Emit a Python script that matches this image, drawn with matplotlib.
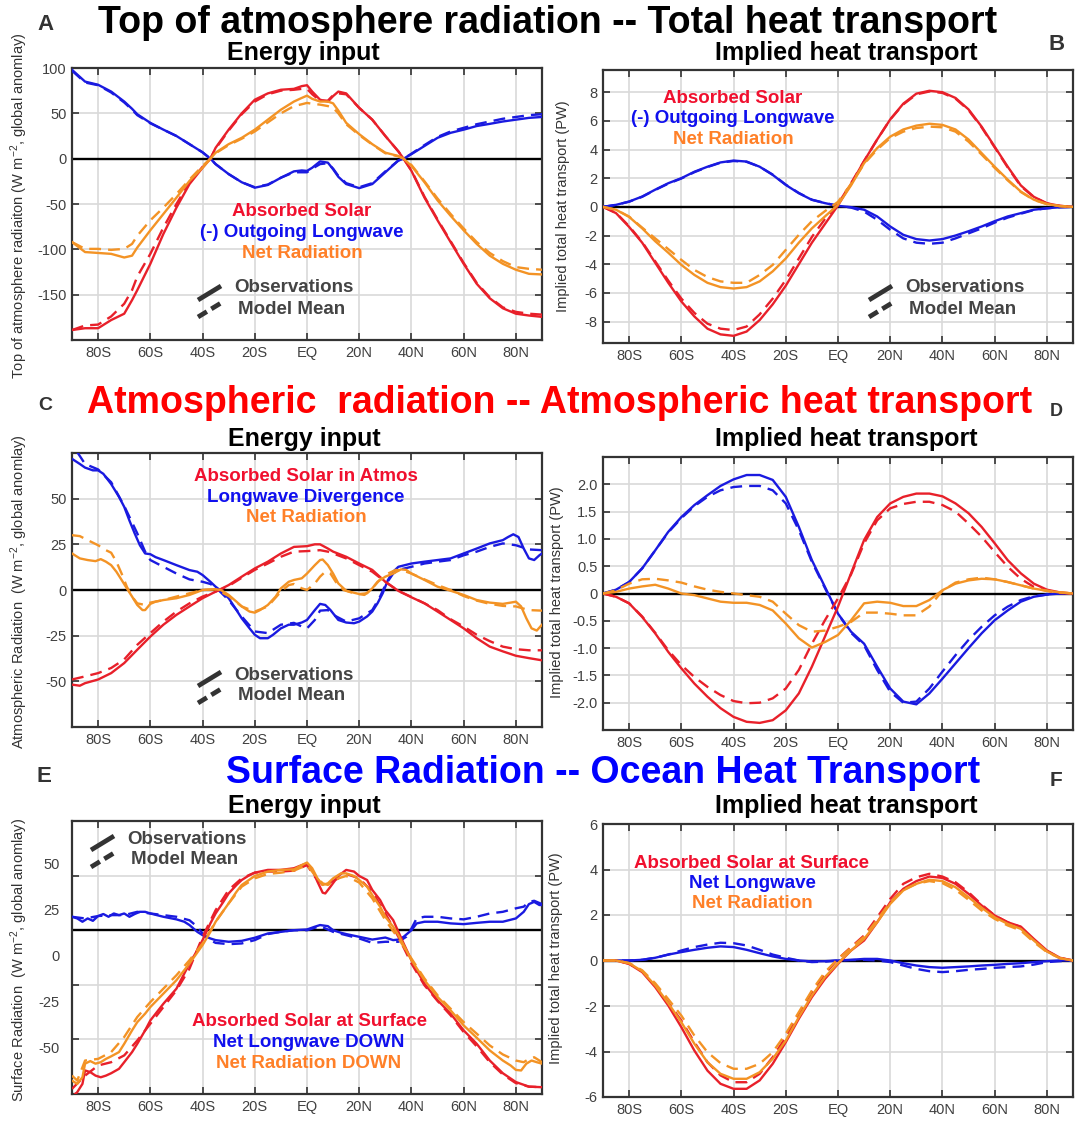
import numpy as np
import matplotlib
matplotlib.use("Agg")
import matplotlib.pyplot as plt
from matplotlib.lines import Line2D

plt.rcParams['font.family'] = ['Liberation Sans', 'DejaVu Sans']
plt.rcParams['mathtext.default'] = 'regular'

W, H = 1075, 1122

# ---------------- data ----------------
lat5 = list(range(-90, 91, 5))
x_ticks = [-80, -60, -40, -20, 0, 20, 40, 60, 80]
x_labels = ['80S', '60S', '40S', '20S', 'EQ', '20N', '40N', '60N', '80N']

# A: top of atmosphere energy input (W m-2)
a_lat = [-90, -85, -80, -75, -70, -67, -65, -60, -55, -50, -45, -40, -37, -35, -30, -25, -20, -15, -10, -5,
         -2, 0, 2, 5, 8, 10, 12, 15, 20, 25, 30, 35, 37, 40, 45, 50, 55, 60, 65, 70, 75, 80, 85, 90]
a_lw_obs = [98, 85, 81.5, 74, 63, 55, 49, 39.5, 32, 25, 16, 7, 0, -6, -17, -26, -32, -29, -21, -14,
            -13, -13.5, -10, -3, -4.4, -11.7, -20, -28, -32.5, -28, -15, -2, 0, 5, 14, 23, 28.5, 32, 36, 38.4, 41, 43, 45, 46]
a_lw_mod = [97, 84, 81, 73, 62, 54, 48, 39, 32, 25, 16, 7, 0, -6, -17, -26, -31.5, -28.5, -21, -15,
            -15, -15, -11, -6, -5, -11, -19, -27, -31.5, -27, -14, -2, 0, 5.5, 15, 24, 30, 34, 38, 41, 44, 46, 48, 49]
a_sw_obs = [-189, -187, -187, -178, -171, -156, -145, -116, -83, -54, -28, -10, 0, 12, 32, 50, 65, 72, 76, 77,
            80, 81, 74, 65, 63, 69, 74, 72, 56, 43, 25, 8, 0, -13.5, -43, -68, -92, -116, -138, -154, -165, -171, -173, -174.5]
a_sw_mod = [-189, -184, -183, -174, -160, -145, -130, -105, -76, -50, -26, -9, 0, 11, 31, 49, 63, 71, 75, 76,
            77, 77, 71, 64, 64, 70, 72, 71, 56, 43, 25, 8, 0, -13, -42, -67, -91, -115, -137, -153, -164, -169, -171, -172]
a_net_obs = [-92, -103, -104, -105, -109, -107, -98, -79, -61, -43, -24.5, -10, 0, 6.6, 16, 23, 32, 43, 54, 63,
             67, 69.5, 66, 63, 63, 61, 53, 39.5, 27, 16, 6.6, 3, 0, -8, -26, -46, -63, -79, -94, -107, -116, -122.5, -127, -127.7]
a_net_mod = [-92, -99.5, -99.5, -100.6, -99.5, -94, -85, -68, -54, -39, -23, -8, 0, 6, 15, 22, 30, 40, 50, 58,
             60, 61.5, 60.5, 59.6, 58, 56, 50, 38, 26, 15.5, 6, 2.5, 0, -7, -25, -44, -61, -77, -92, -104, -113, -119.6, -121.5, -122.5]

# B: implied total heat transport (PW), on lat5
b_sw_obs = [0, -0.44, -1.4, -2.5, -3.9, -5.3, -6.6, -7.65, -8.5, -8.9, -9.0, -8.7, -7.9, -6.8, -5.5, -4.0, -2.5, -1.2, 0.1,
            1.6, 3.2, 4.7, 6.1, 7.2, 7.9, 8.1, 8.0, 7.6, 6.8, 5.6, 4.2, 2.8, 1.5, 0.7, 0.25, 0.07, 0]
b_sw_mod = [0, -0.42, -1.35, -2.45, -3.8, -5.15, -6.4, -7.4, -8.15, -8.5, -8.6, -8.35, -7.5, -6.4, -5.1, -3.6, -2.1, -0.85, 0.2,
            1.65, 3.2, 4.7, 6.1, 7.15, 7.85, 8.05, 7.95, 7.55, 6.75, 5.55, 4.15, 2.75, 1.45, 0.68, 0.24, 0.07, 0]
b_net_obs = [0, -0.2, -0.7, -1.5, -2.4, -3.2, -4.05, -4.75, -5.3, -5.6, -5.7, -5.6, -5.2, -4.5, -3.6, -2.5, -1.5, -0.67, 0.14,
             1.5, 3.05, 4.1, 4.9, 5.4, 5.67, 5.8, 5.72, 5.4, 4.7, 3.75, 2.8, 1.9, 1.07, 0.5, 0.2, 0.05, 0]
b_net_mod = [0, -0.2, -0.68, -1.45, -2.2, -2.95, -3.7, -4.4, -4.9, -5.2, -5.3, -5.3, -4.75, -4.05, -3.0, -1.95, -1.0, -0.3, 0.35,
             1.6, 3.0, 4.0, 4.8, 5.25, 5.5, 5.6, 5.55, 5.25, 4.55, 3.65, 2.72, 1.85, 1.04, 0.48, 0.19, 0.05, 0]
b_lw_obs = [0, 0.14, 0.37, 0.72, 1.2, 1.65, 2.0, 2.45, 2.8, 3.1, 3.23, 3.16, 2.8, 2.23, 1.53, 0.95, 0.49, 0.26, 0.07,
            -0.02, -0.2, -0.67, -1.37, -1.95, -2.25, -2.35, -2.25, -2.0, -1.7, -1.37, -1.0, -0.67, -0.44, -0.2, -0.1, -0.02, 0]
b_lw_mod = [0, 0.14, 0.36, 0.7, 1.18, 1.62, 1.98, 2.42, 2.78, 3.08, 3.2, 3.14, 2.8, 2.25, 1.55, 0.97, 0.5, 0.27, 0.07,
            -0.05, -0.33, -0.9, -1.6, -2.2, -2.5, -2.58, -2.5, -2.2, -1.85, -1.5, -1.1, -0.75, -0.48, -0.22, -0.1, -0.03, 0]

# C: atmospheric energy input (W m-2)
c_lw_obs_lat = [-90, -87, -85, -82, -80, -78, -75, -72, -70, -68, -66, -64, -62, -60, -58, -55, -50, -45, -42, -40,
                -37, -35, -33, -30, -27, -25, -22, -20, -18, -15, -13, -10, -7, -5, -2, 0, 3, 5, 7, 9,
                12, 15, 18, 20, 23, 25, 27, 29, 31, 33, 35, 40, 45, 50, 55, 60, 65, 70, 75, 77,
                79, 81, 83, 85, 87, 89, 90]
c_lw_obs = [71.8, 69, 67, 65.5, 65.5, 63.6, 58, 51, 45.5, 38, 31, 24.5, 20, 19.6, 18, 16.4, 13.6, 10.9, 10, 8.2,
            4.5, 1.8, -0.4, -4.5, -11, -15.5, -21, -24.5, -26.4, -26.4, -24.5, -21, -19, -19, -17.8, -16.4, -11, -7.6, -8.2, -11,
            -16.4, -17.8, -18.2, -17.3, -14.5, -11.8, -7.3, -1.8, 5.5, 10, 12.7, 14.5, 15.5, 16.4, 17.3, 20, 22.7, 25.5, 27.3, 29,
            30.5, 29, 22.7, 17.3, 16.4, 19, 20]
c_lw_mod_lat = [-88, -85, -80, -75, -70, -65, -62, -60, -55, -50, -45, -40, -37, -35, -30, -25, -20, -15, -10, -5,
                -2, 0, 3, 5, 8, 10, 15, 20, 25, 28, 30, 33, 35, 40, 45, 50, 55, 60, 65, 70, 75, 80, 85, 90]
c_lw_mod = [75.5, 69, 66, 59, 46, 31, 21, 16.4, 12.7, 9, 5.8, 4.5, 3.3, 1.5, -5.5, -14.5, -22.7, -23.6, -19, -18,
            -20, -21, -16.4, -11.3, -11, -13.6, -17.3, -15.5, -11, -3.6, 2.7, 9, 11, 12.7, 14.5, 15.5, 16.4, 19, 21, 23.6,
            25.5, 24.5, 22.2, 21.8]
c_sw_obs_lat = [-90, -87, -85, -80, -75, -70, -65, -60, -55, -50, -45, -40, -35, -30, -25, -20, -15, -10, -5, 0,
                3, 5, 8, 10, 15, 20, 25, 30, 35, 40, 45, 50, 55, 60, 65, 70, 75, 80, 85, 90]
c_sw_obs = [-51.8, -52.4, -51, -49, -45.5, -40, -32.7, -25.5, -19, -13.6, -9, -4.5, -0.9, 2.7, 7.3, 11.8, 15.5, 20, 23.6, 24,
            25, 25, 22.7, 21, 18.2, 14.5, 11, 4.5, -0.5, -4, -7.3, -11.8, -16.4, -21, -26.4, -31, -33.6, -36, -37.3, -38.5]
c_sw_mod_lat = [-90, -85, -80, -75, -70, -65, -60, -55, -50, -45, -40, -35, -30, -25, -20, -15, -10, -5,
                0, 5, 8, 10, 15, 20, 25, 30, 35, 40, 45, 50, 55, 60, 65, 70, 75, 80, 85, 90]
c_sw_mod = [-49, -47.3, -45.5, -42.7, -38, -30, -23.6, -17.3, -11.8, -7.3, -3.6, -0.9, 2.2, 6.7, 11, 14.5, 18.2, 21,
            21.3, 21.8, 21, 20, 17.3, 13.6, 10, 4.5, -0.5, -3.8, -7.3, -11, -16, -20, -24.5, -28, -31, -32.4, -33, -33]
c_net_obs_lat = [-90, -87, -84, -81, -79, -77, -75, -73, -71, -69, -67, -65, -63, -62, -60, -58, -55, -50, -45, -40,
                 -35, -33, -30, -27, -25, -22, -20, -18, -15, -12, -10, -7, -5, -2, 0, 3, 5, 6, 8, 10,
                 12, 15, 18, 20, 23, 25, 27, 30, 33, 36, 38, 40, 45, 50, 55, 60, 65, 70, 75, 78,
                 80, 82, 84, 86, 88, 90]
c_net_obs = [20, 17.3, 16.4, 15.8, 16.9, 15.5, 13.6, 10, 5.5, 0.9, -3.6, -8.2, -11, -11, -7.6, -6.4, -5.5, -4.5, -2.7, 0,
             0.4, 0, -2.7, -6.4, -9, -11.8, -12.4, -11, -8.2, -3.6, 0.9, 4.5, 5.5, 6.4, 9, 13.6, 16.4, 16.7, 13.6, 9,
             3.6, -0.4, -1.5, -2.2, -1.8, 0.9, 4.5, 7.3, 9, 11.3, 11, 9, 5.5, 1.8, -0.4, -2.7, -5.5, -6.9, -7.6, -6.9,
             -6.4, -9, -15.5, -21, -22.2, -19]
c_net_mod_lat = [-90, -87, -84, -80, -77, -75, -73, -71, -69, -67, -65, -62, -60, -55, -50, -45, -40, -35, -30, -25,
                 -20, -15, -10, -7, -5, -2, 0, 3, 5, 7, 9, 11, 14, 18, 22, 25, 28, 31, 34, 37,
                 40, 45, 50, 55, 60, 65, 70, 75, 80, 85, 90]
c_net_mod = [30, 29.5, 27.3, 24.5, 21.8, 20.4, 15.5, 9, 1.8, -3.6, -7.3, -8.2, -6.9, -5.5, -3.6, -1.8, 0, 0.4, -3.3, -9,
             -11.8, -9, -0.9, 2.7, 3.3, 0.9, 0, 3.6, 7.3, 10, 9, 4.5, 0, -1.8, -2.7, 0.9, 5.8, 9, 11, 10.5,
             9, 5.8, 2.7, 0, -3.3, -5.8, -7.6, -8.7, -9, -11, -11.3]

# D: implied atmospheric heat transport (PW), on lat5
d_lw_obs = [0, 0.07, 0.21, 0.46, 0.79, 1.13, 1.4, 1.62, 1.8, 1.97, 2.09, 2.17, 2.17, 2.08, 1.77, 1.22, 0.61, 0.12, -0.37,
            -0.70, -0.92, -1.34, -1.74, -1.98, -2.03, -1.83, -1.56, -1.28, -1.0, -0.73, -0.49, -0.31, -0.15, -0.06, -0.02, 0, 0]
d_lw_mod = [0, 0.07, 0.21, 0.46, 0.79, 1.12, 1.38, 1.6, 1.77, 1.89, 1.95, 1.97, 1.97, 1.89, 1.65, 1.16, 0.58, 0.1, -0.37,
            -0.72, -0.95, -1.4, -1.8, -2.0, -1.98, -1.74, -1.43, -1.13, -0.85, -0.61, -0.4, -0.24, -0.12, -0.05, -0.02, 0, 0]
d_sw_obs = [0, -0.06, -0.18, -0.43, -0.73, -1.07, -1.37, -1.65, -1.89, -2.1, -2.26, -2.35, -2.37, -2.32, -2.14, -1.83, -1.34, -0.79, -0.24,
            0.37, 0.98, 1.4, 1.65, 1.77, 1.83, 1.83, 1.78, 1.65, 1.47, 1.22, 0.92, 0.61, 0.37, 0.18, 0.07, 0.02, 0]
d_sw_mod = [0, -0.06, -0.18, -0.42, -0.72, -1.04, -1.31, -1.53, -1.71, -1.86, -1.97, -2.01, -2.0, -1.92, -1.74, -1.4, -0.92, -0.49, -0.09,
            0.35, 0.92, 1.34, 1.56, 1.64, 1.68, 1.68, 1.62, 1.5, 1.28, 1.04, 0.76, 0.49, 0.27, 0.12, 0.05, 0.01, 0]
d_net_obs = [0, 0.03, 0.09, 0.13, 0.16, 0.09, 0, -0.03, -0.09, -0.15, -0.17, -0.17, -0.21, -0.31, -0.55, -0.82, -0.99, -0.89, -0.76,
             -0.49, -0.18, -0.15, -0.17, -0.23, -0.23, -0.12, 0.06, 0.18, 0.24, 0.27, 0.26, 0.21, 0.15, 0.09, 0.05, 0.02, 0]
d_net_mod = [0, 0.06, 0.18, 0.26, 0.27, 0.24, 0.2, 0.13, 0.07, 0.03, 0, -0.03, -0.06, -0.15, -0.37, -0.58, -0.7, -0.68, -0.61,
             -0.52, -0.35, -0.35, -0.37, -0.4, -0.4, -0.24, 0.05, 0.2, 0.26, 0.29, 0.26, 0.21, 0.15, 0.09, 0.05, 0.02, 0]

# E: surface energy input (values on the printed tick-label scale)
e_lw_obs_lat = [-90, -88, -86, -84, -82, -80, -78, -76, -74, -72, -70, -68, -66, -64, -62, -60, -55, -50, -47, -45,
                -42, -40, -37, -35, -30, -25, -20, -15, -10, -5, 0, 3, 5, 8, 10, 13, 15, 20, 25, 30,
                33, 35, 37, 40, 42, 45, 50, 55, 60, 65, 70, 75, 80, 83, 85, 87, 89, 90]
e_lw_obs = [20.9, 20, 18.2, 20, 18.7, 21.3, 22.4, 20.9, 22.7, 21.8, 22.7, 20.9, 22.4, 23.6, 23.6, 22.7, 20.9, 19.5, 18.2, 16.4,
            12.7, 10.9, 9.1, 8.2, 7.3, 7.8, 9.5, 11.8, 12.7, 13.6, 14, 15.5, 16.4, 15.8, 13.6, 12.2, 11.5, 10, 8.5, 9.6,
            8.2, 8.5, 10, 13.6, 17.3, 18.2, 18.2, 17.3, 16.9, 17.6, 18.2, 18.2, 20, 23.6, 27.8, 29, 27.3, 27.3]
e_lw_mod_lat = [-90, -85, -80, -75, -70, -65, -60, -55, -50, -45, -42, -40, -37, -35, -30, -25, -20, -15, -10, -5,
                0, 5, 10, 15, 20, 25, 30, 35, 38, 40, 42, 45, 50, 55, 60, 65, 70, 75, 80, 83, 85, 87, 90]
e_lw_mod = [20.9, 20, 21.3, 21.8, 21.8, 23.6, 22.7, 21.8, 20.9, 19, 15.5, 11.8, 8.2, 6.7, 6, 6.4, 8.2, 11.5, 12.7, 13.6,
            13.6, 15.8, 12.7, 10.9, 9.1, 6.7, 7.3, 7.3, 10, 14.5, 20, 20.9, 20.9, 20, 19.5, 20.9, 22.7, 23.6, 25.5, 26.4,
            29, 29.6, 27.8]
e_sw_obs_lat = [-90, -88, -86, -85, -83, -81, -79, -77, -75, -72, -70, -67, -65, -62, -60, -55, -50, -47, -45, -42,
                -40, -37, -35, -32, -30, -27, -25, -22, -20, -15, -10, -5, -2, 0, 2, 4, 6, 7, 9, 12,
                15, 18, 20, 23, 25, 28, 30, 33, 35, 37, 40, 42, 45, 50, 55, 60, 65, 70, 75, 80, 85, 90]
e_sw_obs = [-77, -74.5, -70, -62.7, -63.6, -65.5, -66.4, -65.5, -64.2, -61.8, -58.2, -52.7, -48.2, -40.9, -35.5, -26.4, -18.2, -10, -4.5, 2.7,
            8.2, 17.3, 22.7, 29.1, 33.6, 38.2, 40.9, 43.6, 44.9, 46.4, 46.4, 47.3, 49, 50, 46.4, 40, 34, 33.6, 37.3, 43.1,
            46.4, 45.5, 43.1, 40.9, 35.5, 30, 24.5, 19.1, 12.7, 6.4, -2.7, -8.2, -15.5, -24.5, -31.8, -40.9, -48.2, -57.3, -64.2, -69, -71.5, -71.8]
e_sw_mod_lat = [-90, -85, -80, -75, -70, -65, -60, -55, -50, -45, -40, -35, -30, -25, -20, -15, -10, -5, 0,
                3, 6, 8, 12, 15, 20, 25, 30, 35, 40, 45, 50, 55, 60, 65, 70, 75, 80, 85, 90]
e_sw_mod = [-72.7, -65.5, -60, -58.2, -54.5, -46.4, -37.3, -28.2, -19.1, -7.3, 10, 24.5, 35.5, 41.8, 44.9, 45.5, 45.5, 46, 49,
            42.7, 38.2, 39.1, 41.8, 44.2, 41.8, 34.5, 22.7, 10, -4.5, -16.4, -24.9, -32.7, -41.8, -49.6, -58.2, -64.9, -69.6, -71.5, -71.8]
e_net_obs_lat = [-90, -88, -86, -85, -83, -81, -79, -77, -75, -72, -70, -67, -65, -62, -60, -55, -50, -45, -40, -37,
                 -35, -30, -27, -25, -20, -15, -10, -5, -2, 0, 2, 4, 6, 8, 10, 13, 15, 18, 20, 23,
                 25, 28, 30, 33, 35, 37, 40, 45, 50, 55, 60, 65, 70, 75, 78, 80, 82, 84, 86, 88, 90]
e_net_obs = [-68.2, -70, -66.4, -59, -57.6, -59, -58.2, -56.4, -55, -52.7, -48.2, -40.9, -36.4, -31.8, -28.2, -20.9, -13.6, -4.5, 5.5, 12.7,
             18.2, 28.2, 34.5, 38.2, 43.1, 45.5, 46.4, 46.7, 49, 50.4, 47.3, 41.8, 38.2, 39.1, 41.8, 44.5, 44.5, 43.1, 40.9, 37.3,
             32.7, 26.4, 20.9, 15.5, 10.9, 5.5, -2.7, -13.6, -22.7, -30, -38.2, -44.9, -51.8, -57.3, -60, -62.4, -62.7, -59, -57.3, -58.2, -59]
e_net_mod_lat = [-90, -88, -85, -80, -75, -70, -65, -60, -55, -50, -45, -40, -35, -30, -25, -20, -15, -10, -5, 0,
                 3, 6, 8, 12, 15, 20, 25, 30, 35, 40, 45, 50, 55, 60, 65, 70, 75, 80, 83, 85, 87, 90]
e_net_mod = [-65.5, -68.2, -57.3, -56.4, -52.7, -44.5, -33.6, -25.5, -18.2, -10.9, -2.7, 6.4, 18.2, 28.2, 37.3, 41.8, 44.2, 44.9, 46, 49,
             43.6, 39.1, 38.2, 41.8, 43.1, 39.5, 30.9, 19.1, 9.1, -1.8, -12.7, -21.8, -29.1, -36.4, -42.7, -49.1, -54, -57.3, -58.2, -56.4, -55.5, -58.2]

# F: implied ocean heat transport (PW), on lat5
f_sw_obs = [0, 0, -0.15, -0.51, -1.17, -1.98, -2.93, -3.96, -4.84, -5.42, -5.64, -5.64, -5.27, -4.54, -3.59, -2.56, -1.61, -0.81, -0.15,
            0.44, 0.88, 1.68, 2.56, 3.15, 3.49, 3.69, 3.63, 3.37, 2.93, 2.42, 1.98, 1.68, 1.49, 0.95, 0.44, 0.12, 0]
f_sw_mod = [0, 0, -0.14, -0.48, -1.1, -1.85, -2.64, -3.59, -4.47, -5.05, -5.35, -5.35, -4.98, -4.25, -3.37, -2.34, -1.39, -0.59, 0.07,
            0.59, 1.1, 1.9, 2.71, 3.37, 3.66, 3.81, 3.69, 3.44, 3.0, 2.46, 1.98, 1.68, 1.47, 0.91, 0.41, 0.11, 0]
f_net_obs = [0, 0, -0.12, -0.47, -1.1, -1.88, -2.71, -3.66, -4.47, -4.98, -5.2, -5.2, -4.91, -4.32, -3.52, -2.49, -1.54, -0.73, -0.12,
             0.44, 0.95, 1.68, 2.49, 3.08, 3.37, 3.55, 3.49, 3.22, 2.78, 2.32, 1.9, 1.61, 1.39, 0.88, 0.4, 0.1, 0]
f_net_mod = [0, 0, -0.11, -0.43, -1.0, -1.7, -2.42, -3.3, -4.03, -4.51, -4.76, -4.76, -4.54, -4.03, -3.22, -2.27, -1.32, -0.51, 0.07,
             0.56, 1.05, 1.79, 2.56, 3.11, 3.37, 3.49, 3.4, 3.11, 2.67, 2.2, 1.83, 1.54, 1.32, 0.81, 0.37, 0.1, 0]
f_lw_obs = [0, 0, 0, 0.03, 0.12, 0.26, 0.37, 0.47, 0.56, 0.62, 0.59, 0.47, 0.32, 0.18, 0.07, 0, -0.04, -0.03, 0,
            0.03, 0.07, 0.07, 0, -0.12, -0.22, -0.29, -0.32, -0.29, -0.26, -0.22, -0.19, -0.15, -0.12, -0.07, -0.03, 0, 0]
f_lw_mod = [0, 0, 0, 0.03, 0.12, 0.26, 0.44, 0.59, 0.7, 0.78, 0.76, 0.66, 0.47, 0.26, 0.12, 0, -0.07, -0.05, 0,
            0.02, 0.03, 0.0, -0.07, -0.22, -0.37, -0.47, -0.51, -0.47, -0.41, -0.37, -0.32, -0.29, -0.26, -0.18, -0.07, -0.03, 0]

# ---------------- styling ----------------
RED, BLUE, ORANGE = '#e8202a', '#1a1ae0', '#f39325'
RED_T, BLUE_T, ORANGE_T = '#f0102e', '#1010ee', '#ff8028'
DARK = '#333333'
GRID = '#d9d9d9'
LW = 1.7
DASH = (5, 3)


def px_box(l, t, r, b):
    return [l / W, 1 - b / H, (r - l) / W, (b - t) / H]


def ftext(x, y, s, **kw):
    fig.text(x / W, 1 - y / H, s, **kw)


def slash(x0, y0, x1, y1, dashed=False):
    ln = Line2D([x0 / W, x1 / W], [1 - y0 / H, 1 - y1 / H], transform=fig.transFigure,
                color=DARK, lw=3.4, solid_capstyle='butt')
    if dashed:
        ln.set_dashes((2.2, 1.1))
        ln.set_dash_capstyle('butt')
    fig.add_artist(ln)


def style(ax, ylim, yticks, ylabels, zero=0.0):
    ax.set_xlim(-90, 90)
    ax.set_ylim(*ylim)
    ax.set_xticks(x_ticks, x_labels)
    ax.set_yticks(yticks, ylabels)
    ax.grid(True, color=GRID, lw=1.2)
    ax.set_axisbelow(True)
    ax.axhline(zero, color='black', lw=1.7, zorder=1.5)
    ax.tick_params(direction='in', length=5, width=1.2, top=True, right=True,
                   colors=DARK, labelcolor='#404040', labelsize=10.5, pad=4)
    for sp in ax.spines.values():
        sp.set_color(DARK)
        sp.set_linewidth(1.6)


def pair(ax, lat_o, obs, lat_m, mod, color):
    ax.plot(lat_m, mod, color=color, lw=LW, dashes=DASH, zorder=3)
    ax.plot(lat_o, obs, color=color, lw=LW, zorder=3)


fig = plt.figure(figsize=(W / 100, H / 100), dpi=100)

# ---- A ----
axA = fig.add_axes(px_box(72, 68, 542, 340))
style(axA, (-200, 100), [-150, -100, -50, 0, 50, 100], ['-150', '-100', '-50', '0', '50', '100'])
pair(axA, a_lat, a_lw_obs, a_lat, a_lw_mod, BLUE)
pair(axA, a_lat, a_sw_obs, a_lat, a_sw_mod, RED)
pair(axA, a_lat, a_net_obs, a_lat, a_net_mod, ORANGE)

# ---- B ----
axB = fig.add_axes(px_box(603, 70, 1073, 343))
style(axB, (-9.5, 9.55), list(range(-8, 9, 2)), [str(v) for v in range(-8, 9, 2)])
pair(axB, lat5, b_lw_obs, lat5, b_lw_mod, BLUE)
pair(axB, lat5, b_sw_obs, lat5, b_sw_mod, RED)
pair(axB, lat5, b_net_obs, lat5, b_net_mod, ORANGE)

# ---- C ----
axC = fig.add_axes(px_box(72, 453, 542, 727))
style(axC, (-75, 75), [-50, -25, 0, 25, 50], ['-50', '-25', '0', '25', '50'])
pair(axC, c_lw_obs_lat, c_lw_obs, c_lw_mod_lat, c_lw_mod, BLUE)
pair(axC, c_sw_obs_lat, c_sw_obs, c_sw_mod_lat, c_sw_mod, RED)
pair(axC, c_net_obs_lat, c_net_obs, c_net_mod_lat, c_net_mod, ORANGE)

# ---- D ----
axD = fig.add_axes(px_box(603, 457, 1073, 730))
d_ticks = [-2.0, -1.5, -1.0, -0.5, 0, 0.5, 1.0, 1.5, 2.0]
style(axD, (-2.5, 2.5), d_ticks, ['-2.0', '-1.5', '-1.0', '-0.5', '0', '0.5', '1.0', '1.5', '2.0'])
pair(axD, lat5, d_lw_obs, lat5, d_lw_mod, BLUE)
pair(axD, lat5, d_sw_obs, lat5, d_sw_mod, RED)
pair(axD, lat5, d_net_obs, lat5, d_net_mod, ORANGE)

# ---- E ---- (printed tick labels are offset from the grid in the original)
axE = fig.add_axes(px_box(72, 821, 542, 1094))
e_ylim = (-75.5, 73.0)
e_step = (e_ylim[1] - e_ylim[0]) / 5
e_grid = [e_ylim[1] - k * e_step for k in range(1, 5)]
style(axE, e_ylim, e_grid, ['' for _ in e_grid], zero=e_grid[1])
axE.set_yticks([-50, -25, 0, 25, 50], ['-50', '-25', '0', '25', '50'], minor=True)
axE.tick_params(axis='y', which='minor', length=0, labelsize=10.5, labelcolor='#404040', pad=9)
pair(axE, e_lw_obs_lat, e_lw_obs, e_lw_mod_lat, e_lw_mod, BLUE)
pair(axE, e_sw_obs_lat, e_sw_obs, e_sw_mod_lat, e_sw_mod, RED)
pair(axE, e_net_obs_lat, e_net_obs, e_net_mod_lat, e_net_mod, ORANGE)

# ---- F ----
axF = fig.add_axes(px_box(603, 824, 1073, 1097))
style(axF, (-6, 6), list(range(-6, 7, 2)), [str(v) for v in range(-6, 7, 2)])
pair(axF, lat5, f_lw_obs, lat5, f_lw_mod, BLUE)
pair(axF, lat5, f_sw_obs, lat5, f_sw_mod, RED)
pair(axF, lat5, f_net_obs, lat5, f_net_mod, ORANGE)

# ---------------- titles and labels ----------------
ftext(548, 33, 'Top of atmosphere radiation -- Total heat transport', ha='center', va='baseline',
      fontsize=27, fontweight='bold', color='black')
ftext(560, 413, 'Atmospheric  radiation -- Atmospheric heat transport', ha='center', va='baseline',
      fontsize=27, fontweight='bold', color='#ff0000')
ftext(603, 783, 'Surface Radiation -- Ocean Heat Transport', ha='center', va='baseline',
      fontsize=27, fontweight='bold', color='#0000ff')

for (x, y, s) in [(303, 60, 'Energy input'), (846, 60, 'Implied heat transport'),
                  (304, 446, 'Energy input'), (846, 446, 'Implied heat transport'),
                  (304, 813, 'Energy input'), (846, 813, 'Implied heat transport')]:
    ftext(x, y, s, ha='center', va='baseline', fontsize=18, fontweight='bold', color='black')

for (x, y, s, fs) in [(45, 25, 'A', 16), (1057, 45, 'B', 16), (45, 406, 'C', 14),
                      (1056, 411, 'D', 13), (44, 776, 'E', 16), (1056, 780, 'F', 15)]:
    ftext(x, y, s, ha='center', va='center', fontsize=fs, fontweight='bold', color=DARK)

ylab_pw = 'Implied total heat transport (PW)'
for (x, y, s) in [(19, 206, 'Top of atmosphere radiaiton (W m$^{-2}$, global anomlay)'),
                  (563, 206, ylab_pw),
                  (19, 592, 'Atmospheric Radiation  (W m$^{-2}$, global anomlay)'),
                  (557, 592, ylab_pw),
                  (19, 960, 'Surface Radiation  (W m$^{-2}$, global anomlay)'),
                  (556, 958, ylab_pw)]:
    ftext(x, y, s, ha='center', va='center', rotation=90, fontsize=10.5, color='#333333')

# legends (coloured text)
LEG = dict(ha='center', va='center', fontsize=13.5, fontweight='bold')
for (x, y0, names) in [(302, 212, ['Absorbed Solar', '(-) Outgoing Longwave', 'Net Radiation']),
                       (733, 98, ['Absorbed Solar', '(-) Outgoing Longwave', 'Net Radiation']),
                       (306, 477, ['Absorbed Solar in Atmos', 'Longwave Divergence', 'Net Radiation']),
                       (309, 1022, ['Absorbed Solar at Surface', 'Net Longwave DOWN', 'Net Radiation DOWN']),
                       (752, 863, ['Absorbed Solar at Surface', 'Net Longwave', 'Net Radiation'])]:
    for i, (name, col) in enumerate(zip(names, [RED_T, BLUE_T, ORANGE_T])):
        ftext(x, y0 + i * 20.5, name, color=col, **LEG)

# observations / model mean keys
for (x, y, sx, sy) in [(294, 288, 198, 300), (965, 288, 869, 300), (294, 675, 198, 686), (187, 839, 91, 850)]:
    ftext(x, y, 'Observations', color='#444444', **LEG)
    ftext(x - 2, y + 21, 'Model Mean', color='#444444', **LEG)
    slash(sx, sy, sx + 23, sy - 14)
    slash(sx, sy + 17, sx + 23, sy + 3, dashed=True)

fig.savefig('out.png', dpi=100)
